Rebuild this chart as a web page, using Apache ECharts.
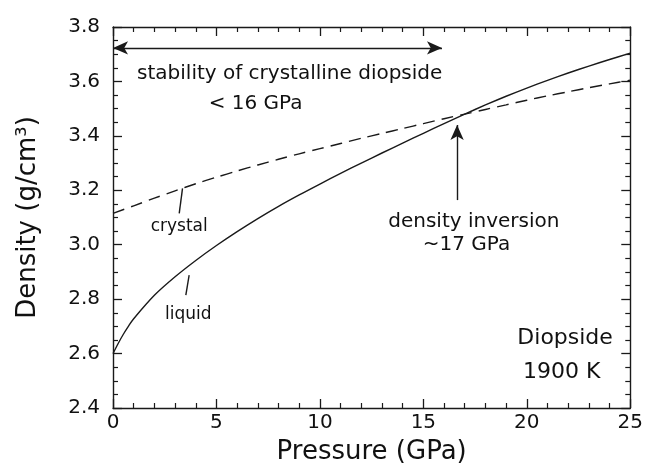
<!DOCTYPE html>
<html>
<head>
<meta charset="utf-8">
<script src="https://cdn.jsdelivr.net/npm/echarts@6/dist/echarts.min.js"></script>
<style>
html,body{margin:0;padding:0;background:#fff;}
#chart{width:646px;height:473px;}
</style>
</head>
<body>
<div id="chart"></div>
<script>
// ---- data (pressure in GPa, density in g/cm3) ----
const liquidP = [0, 0.25, 0.5, 0.75, 1, 2, 3, 4, 5, 6, 7, 8, 9, 10, 11, 12, 13, 14, 15, 16, 17, 18, 19, 20, 21, 22, 23, 24, 25];
const liquidD = [2.600, 2.637, 2.671, 2.701, 2.728, 2.814, 2.882, 2.942, 2.997, 3.048, 3.096, 3.141, 3.183, 3.223, 3.262, 3.300, 3.337, 3.3735, 3.4095, 3.445, 3.480, 3.5135, 3.5455, 3.5755, 3.604, 3.631, 3.6565, 3.6805, 3.704];
const crystalP = [0, 1, 2, 3, 4, 5, 6, 7, 8, 9, 10, 11, 12, 13, 14, 15, 16, 17, 18, 19, 20, 21, 22, 23, 24, 25];
const crystalD = [3.115, 3.143, 3.171, 3.198, 3.224, 3.248, 3.271, 3.293, 3.314, 3.334, 3.353, 3.372, 3.391, 3.409, 3.427, 3.445, 3.463, 3.480, 3.497, 3.514, 3.531, 3.547, 3.562, 3.577, 3.591, 3.605];

const xTicks = [0, 5, 10, 15, 20, 25];
const yTicks = [2.4, 2.6, 2.8, 3.0, 3.2, 3.4, 3.6, 3.8];

const noteText = ['stability of crystalline diopside', '< 16 GPa', 'density inversion', '~17 GPa', 'crystal', 'liquid', 'Diopside', '1900 K'];
const noteP = [8.54, 6.89, 17.44, 17.08, 3.20, 3.64, 21.85, 21.69];
const noteD = [3.629, 3.517, 3.086, 3.000, 3.065, 2.745, 2.657, 2.533];

const stabilityArrowP = [0, 15.9];
const stabilityArrowD = [3.723, 3.723];
const inversionArrowP = [16.63, 16.63];
const inversionArrowD = [3.164, 3.440];
const crystalLeaderP = [3.36, 3.20];
const crystalLeaderD = [3.207, 3.115];
const liquidLeaderP = [3.68, 3.52];
const liquidLeaderD = [2.888, 2.815];

// ---- build option ----
const INK = '#1a1a1a';
const TXT = '#111';
const FONT = 'DejaVu Sans';
const zip = (a, b) => a.map((v, i) => [v, b[i]]);
const noteSize = { 'crystal': 17, 'liquid': 17, 'Diopside': 22, '1900 K': 22 };

function seg(ps, ds, s0, s1) {
  return [
    { coord: [ps[0], ds[0]], symbol: s0 },
    { coord: [ps[1], ds[1]], symbol: s1 }
  ];
}

function makeAxis(isX, pos, showLabel) {
  const ax = {
    type: 'value',
    position: pos,
    min: isX ? xTicks[0] : yTicks[0],
    max: isX ? xTicks[xTicks.length - 1] : yTicks[yTicks.length - 1],
    interval: isX ? 5 : 0.2,
    axisLine: { show: true, onZero: false, lineStyle: { color: INK, width: 1.4 } },
    axisTick: { show: true, inside: true, length: 9, lineStyle: { color: INK, width: 1.3 } },
    minorTick: { show: true, splitNumber: isX ? 5 : 4, length: 5, lineStyle: { color: INK, width: 1.2 } },
    splitLine: { show: false },
    minorSplitLine: { show: false },
    axisLabel: { show: false }
  };
  if (showLabel) {
    if (isX) {
      ax.axisLabel = { show: true, fontFamily: FONT, fontSize: 20, color: TXT, margin: 5 };
      ax.name = 'Pressure (GPa)';
      ax.nameLocation = 'middle';
      ax.nameGap = 31;
    } else {
      ax.axisLabel = { show: true, fontFamily: FONT, fontSize: 20, color: TXT, margin: 13,
        padding: [0, 0, 6, 0], formatter: v => v.toFixed(1) };
      ax.name = 'Density (g/cm³)';
      ax.nameLocation = 'middle';
      ax.nameGap = 72;
    }
    ax.nameTextStyle = { fontFamily: FONT, fontSize: 26, color: TXT };
  }
  return ax;
}

const option = {
  animation: false,
  backgroundColor: '#fff',
  textStyle: { fontFamily: FONT, color: TXT },
  grid: { left: 113, right: 13, top: 27, bottom: 65 },
  xAxis: [makeAxis(true, 'bottom', true), makeAxis(true, 'top', false)],
  yAxis: [makeAxis(false, 'left', true), makeAxis(false, 'right', false)],
  series: [
    {
      name: 'liquid', type: 'line', data: zip(liquidP, liquidD), smooth: 0.3,
      showSymbol: false, symbol: 'none',
      lineStyle: { color: INK, width: 1.4, type: 'solid' }
    },
    {
      name: 'crystal', type: 'line', data: zip(crystalP, crystalD), smooth: 0.3,
      showSymbol: false, symbol: 'none',
      lineStyle: { color: INK, width: 1.4, type: [12, 7] }
    },
    {
      name: 'annotations', type: 'line', data: [], silent: true,
      markLine: {
        silent: true, animation: false,
        symbolSize: [10, 15],
        label: { show: false },
        lineStyle: { color: INK, width: 1.4, type: 'solid' },
        emphasis: { disabled: true },
        data: [
          seg(stabilityArrowP, stabilityArrowD, 'arrow', 'arrow'),
          seg(inversionArrowP, inversionArrowD, 'none', 'arrow'),
          seg(crystalLeaderP, crystalLeaderD, 'none', 'none'),
          seg(liquidLeaderP, liquidLeaderD, 'none', 'none')
        ]
      }
    },
    {
      name: 'notes', type: 'scatter', silent: true, symbolSize: 0,
      itemStyle: { opacity: 1 },
      data: noteText.map((t, i) => ({
        value: [noteP[i], noteD[i]],
        name: t,
        label: {
          show: true, position: 'inside', formatter: t,
          fontFamily: FONT, fontSize: noteSize[t] || 20, color: TXT,
          align: 'center', verticalAlign: 'middle'
        }
      }))
    }
  ]
};

const chart = echarts.init(document.getElementById('chart'), null, { renderer: 'canvas' });
chart.setOption(option);
</script>
</body>
</html>
